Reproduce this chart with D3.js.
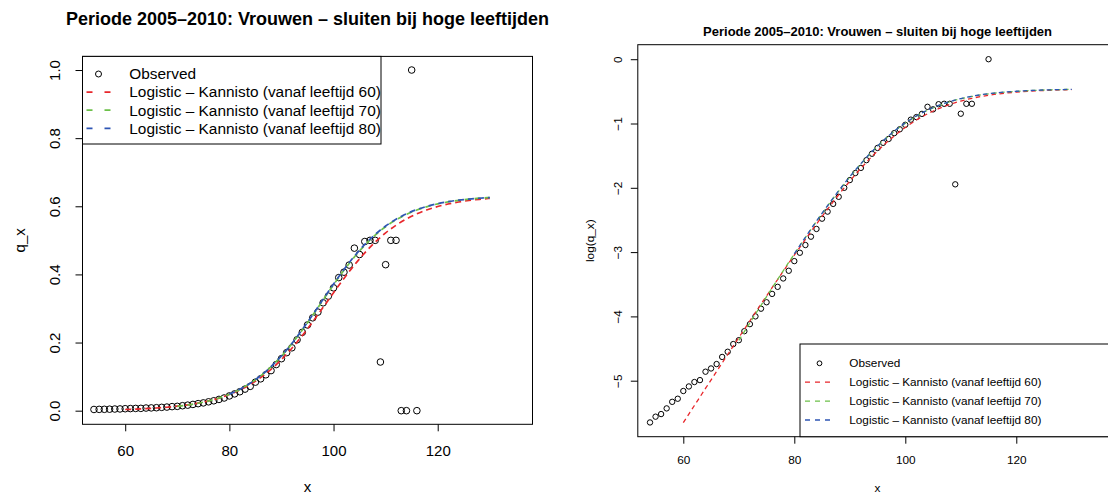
<!DOCTYPE html>
<html><head><meta charset="utf-8">
<script src="https://cdn.jsdelivr.net/npm/d3@7"></script>
<style>
body{margin:0;background:#fff}
svg{display:block}
text{font-family:"Liberation Sans",Arial,Helvetica,sans-serif;fill:#000}
</style>
</head><body><svg id="c" width="1108" height="495"></svg>
<script>
// ---------- data ----------
const obsAge = [54,55,56,57,58,59,60,61,62,63,64,65,66,67,68,69,70,71,72,73,74,75,76,77,78,79,80,81,82,83,84,85,86,87,88,89,90,91,92,93,94,95,96,97,98,99,100,101,102,103,104,105,106,107,108,109,110,111,112,113,114,115,116];
const obsQ = [0.00352,0.00385,0.00401,0.00438,0.00485,0.00509,0.00574,0.00616,0.00660,0.00680,0.00775,0.00815,0.00873,0.00975,0.01057,0.01191,0.01265,0.01455,0.01624,0.01832,0.02065,0.02282,0.02599,0.02901,0.03304,0.03725,0.04328,0.04929,0.05558,0.06329,0.07136,0.08374,0.09348,0.10540,0.11765,0.13534,0.15259,0.17033,0.18452,0.20805,0.22993,0.25158,0.27253,0.28938,0.31664,0.33622,0.36059,0.39063,0.40657,0.42741,0.47711,0.45841,0.49659,0.5,0.5,0.142857,0.428571,0.5,0.5,0,0,1,0];

const fitAge60 = [60,62,64,66,68,70,72,74,76,78,80,82,84,86,88,90,92,94,96,98,100,102,104,106,108,110,112,114,116,118,120,122,124,126,128,130];
const fit60 = [0.003514,0.004581,0.005972,0.007781,0.010127,0.013168,0.017097,0.022161,0.028655,0.036945,0.047451,0.060655,0.077071,0.097203,0.121484,0.150181,0.183303,0.220476,0.260874,0.303339,0.34628,0.38818,0.42756,0.46334,0.49483,0.52177,0.54436,0.56289,0.57787,0.58983,0.59928,0.60670,0.61249,0.61699,0.62048,0.62317];

const fitAge70 = [70,72,74,76,78,80,82,84,86,88,90,92,94,96,98,100,102,104,106,108,110,112,114,116,118,120,122,124,126,128,130];
const fit70 = [0.012613,0.016586,0.021771,0.028503,0.037196,0.048340,0.062489,0.080231,0.102144,0.128697,0.160118,0.196331,0.236757,0.28013,0.32507,0.36970,0.41224,0.45123,0.48574,0.51534,0.54004,0.56020,0.57634,0.58913,0.59915,0.60692,0.61290,0.61750,0.62101,0.62369,0.62573];

const fitAge80 = [80,82,84,86,88,90,92,94,96,98,100,102,104,106,108,110,112,114,116,118,120,122,124,126,128,130];
const fit80 = [0.0485,0.0627,0.0806,0.1026,0.1293,0.1609,0.1973,0.2380,0.2816,0.3268,0.3717,0.4144,0.4535,0.4880,0.5174,0.5420,0.5620,0.5779,0.5904,0.6002,0.6077,0.6135,0.6179,0.6212,0.6236,0.6254];

const xTicks = [60,80,100,120];
const yTicksLeft = [0,0.2,0.4,0.6,0.8,1.0];
const yTickLabelsLeft = ["0.0","0.2","0.4","0.6","0.8","1.0"];
const yTicksRight = [-5,-4,-3,-2,-1,0];
const yTickLabelsRight = ["\u22125","\u22124","\u22123","\u22122","\u22121","0"];

const titleText = "Periode 2005\u20132010: Vrouwen \u2013 sluiten bij hoge leeftijden";
const legendLabels = ["Observed","Logistic \u2013 Kannisto (vanaf leeftijd 60)","Logistic \u2013 Kannisto (vanaf leeftijd 70)","Logistic \u2013 Kannisto (vanaf leeftijd 80)"];
const fitColors = ["#E8262B","#6CC049","#2E55B4"];

// ---------- drawing ----------
const svg = d3.select("#c");
svg.append("rect").attr("width",1108).attr("height",495).attr("fill","#fff");

function panel(cfg){
  const g = svg.append("g");
  const x = d3.scaleLinear().domain([51.8,138.2]).range([cfg.left,cfg.right]);
  const y = d3.scaleLinear().domain(cfg.ydom).range([cfg.bottom,cfg.top]);
  const tf = cfg.tf;
  const clipId = "clip"+cfg.id;
  g.append("clipPath").attr("id",clipId).append("rect")
    .attr("x",cfg.left).attr("y",cfg.top).attr("width",cfg.right-cfg.left).attr("height",cfg.bottom-cfg.top);
  const plot = g.append("g").attr("clip-path",`url(#${clipId})`);

  // observed points
  const pts = obsAge.map((a,i)=>({a, v: tf(obsQ[i])})).filter(d=>isFinite(d.v));
  plot.selectAll("circle.obs").data(pts).join("circle")
    .attr("cx",d=>x(d.a)).attr("cy",d=>y(d.v)).attr("r",cfg.r)
    .attr("fill","none").attr("stroke","#000").attr("stroke-width",cfg.cw);

  // fitted curves
  const fits = [[fitAge60,fit60],[fitAge70,fit70],[fitAge80,fit80]];
  const line = d3.line().x(d=>x(d[0])).y(d=>y(tf(d[1]))).curve(d3.curveMonotoneX);
  fits.forEach((f,k)=>{
    plot.append("path").datum(f[0].map((a,i)=>[a,f[1][i]]))
      .attr("d",line).attr("fill","none").attr("stroke",fitColors[k])
      .attr("stroke-width",cfg.lw).attr("stroke-dasharray",cfg.dash);
  });

  // axes
  const xa = g.append("g").attr("transform",`translate(0,${cfg.bottom})`)
    .call(d3.axisBottom(x).tickValues(xTicks).tickSize(cfg.tick).tickFormat(d3.format("d")));
  xa.select(".domain").remove();
  xa.selectAll("line").attr("stroke","#000");
  xa.selectAll("text").attr("y",cfg.xlabOff).attr("dy","0.35em")
    .style("font-size",cfg.fs+"px").attr("fill","#000");

  const ya = g.append("g").attr("transform",`translate(${cfg.left},0)`)
    .call(d3.axisLeft(y).tickValues(cfg.yticks).tickSize(cfg.tick).tickFormat((d,i)=>cfg.ylabels[i]));
  ya.select(".domain").remove();
  ya.selectAll("line").attr("stroke","#000");
  ya.selectAll("text").attr("x",null).attr("dy","0.35em").attr("text-anchor","middle")
    .attr("transform",`translate(${-cfg.ylabOff},0) rotate(-90)`)
    .style("font-size",cfg.fs+"px").attr("fill","#000");

  // box
  g.append("rect").attr("x",cfg.left).attr("y",cfg.top)
    .attr("width",cfg.right-cfg.left).attr("height",cfg.bottom-cfg.top)
    .attr("fill","none").attr("stroke","#000").attr("stroke-width",1);

  // titles
  g.append("text").attr("x",(cfg.left+cfg.right)/2).attr("y",cfg.titleY).attr("dy","0.35em")
    .attr("text-anchor","middle").style("font-size",cfg.tfs+"px").style("font-weight","bold").text(titleText);
  g.append("text").attr("x",(cfg.left+cfg.right)/2).attr("y",cfg.xtitleY).attr("dy","0.35em")
    .attr("text-anchor","middle").style("font-size",cfg.fs+"px").text("x");
  g.append("text").attr("transform",`translate(${cfg.ytitleX},${(cfg.top+cfg.bottom)/2}) rotate(-90)`)
    .attr("dy","0.35em").attr("text-anchor","middle").style("font-size",cfg.fs+"px").text(cfg.ytitle);

  // legend
  const L = cfg.leg;
  g.append("rect").attr("x",L.x0).attr("y",L.y0).attr("width",L.x1-L.x0).attr("height",L.y1-L.y0)
    .attr("fill","#fff").attr("stroke","#000").attr("stroke-width",1);
  legendLabels.forEach((t,i)=>{
    const yy = L.row0 + i*L.dy;
    if(i===0){
      g.append("circle").attr("cx",(L.s0+L.s1)/2).attr("cy",yy).attr("r",L.r)
        .attr("fill","none").attr("stroke","#000").attr("stroke-width",cfg.cw);
    } else {
      g.append("line").attr("x1",L.s0).attr("x2",L.s1).attr("y1",yy).attr("y2",yy)
        .attr("stroke",fitColors[i-1]).attr("stroke-width",cfg.lw).attr("stroke-dasharray",L.dash);
    }
    g.append("text").attr("x",L.tx).attr("y",yy).attr("dy","0.35em")
      .style("font-size",L.fs+"px").text(t);
  });
}

panel({
  id:"L", left:82.5, right:532.5, top:56.4, bottom:424.3,
  ydom:[-0.04,1.04], tf:v=>v, yticks:yTicksLeft, ylabels:yTickLabelsLeft,
  r:3.3, cw:1, lw:1.7, dash:"6,4", tick:7, fs:15, tfs:18,
  xlabOff:26.7, ylabOff:27.5, titleY:19, xtitleY:487, ytitleX:20, ytitle:"q_x",
  leg:{x0:82.5,x1:381,y0:56.4,y1:144,row0:74,dy:18.1,s0:86.5,s1:110.5,r:3,tx:129.3,fs:15.4,dash:"6,12"}
});

panel({
  id:"R", left:637.8, right:1117.3, top:44.7, bottom:436.7,
  ydom:[-5.871,0.2258], tf:v=>Math.log(v), yticks:yTicksRight, ylabels:yTickLabelsRight,
  r:2.7, cw:1, lw:1.3, dash:"4.5,3.5", tick:7, fs:11.8, tfs:13,
  xlabOff:22.8, ylabOff:20.3, titleY:31, xtitleY:487.5, ytitleX:590, ytitle:"log(q_x)",
  leg:{x0:800,x1:1117.3,y0:344,y1:436.7,row0:363.3,dy:18.9,s0:805,s1:834,r:2.4,tx:849.3,fs:11.75,dash:"5,5"}
});
</script></body></html>
